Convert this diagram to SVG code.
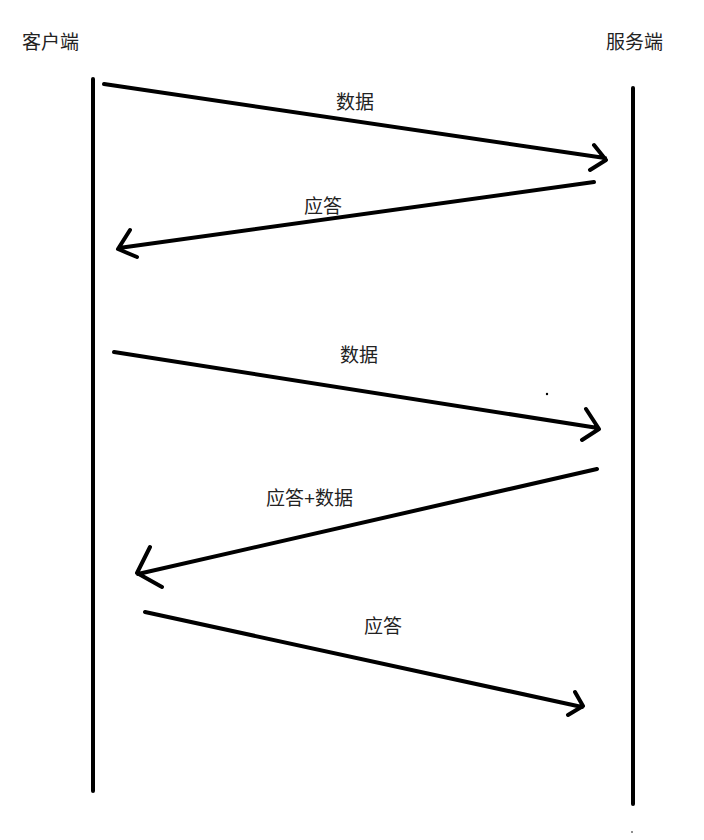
<svg xmlns="http://www.w3.org/2000/svg" width="704" height="840" viewBox="0 0 704 840">
<style>
.t{font-family:"Liberation Sans","Noto Sans CJK SC",sans-serif;font-size:19px;fill:#222;}
.l{stroke:#000;stroke-width:4;fill:none;stroke-linecap:round;stroke-linejoin:round;}
</style>
<rect width="704" height="840" fill="#fff"/>
<g id="client">
<text class="t" x="22" y="49">客户端</text>
<line class="l" x1="93" y1="79" x2="93" y2="791" stroke-linecap="butt"/>
</g>
<g id="server">
<text class="t" x="606" y="49">服务端</text>
<line class="l" x1="633" y1="88" x2="633" y2="804" stroke-linecap="butt"/>
</g>
<g id="connectors">
<path class="l" d="M104,84 L605,158 M594,145 L606,160 L590,170"/>
<path class="l" d="M594,182 L119,248 M130,230 L118,249 L137,257"/>
<path class="l" d="M114,352 L598,428 M586,409 L599,429 L582,440"/>
<path class="l" d="M597,469 L138,574 M150,547 L137,573 L162,587"/>
<path class="l" d="M145,612 L582,707 M575,692 L583,706 L568,715"/>
</g>
<g id="labels">
<text class="t" x="336" y="109">数据</text>
<text class="t" x="304" y="213">应答</text>
<text class="t" x="340" y="362">数据</text>
<text class="t" x="266" y="505">应答+数据</text>
<text class="t" x="364" y="633">应答</text>
</g>
<circle cx="547" cy="394" r="1.2" fill="#000"/>
<circle cx="632" cy="832" r="0.8" fill="#000"/>
</svg>
